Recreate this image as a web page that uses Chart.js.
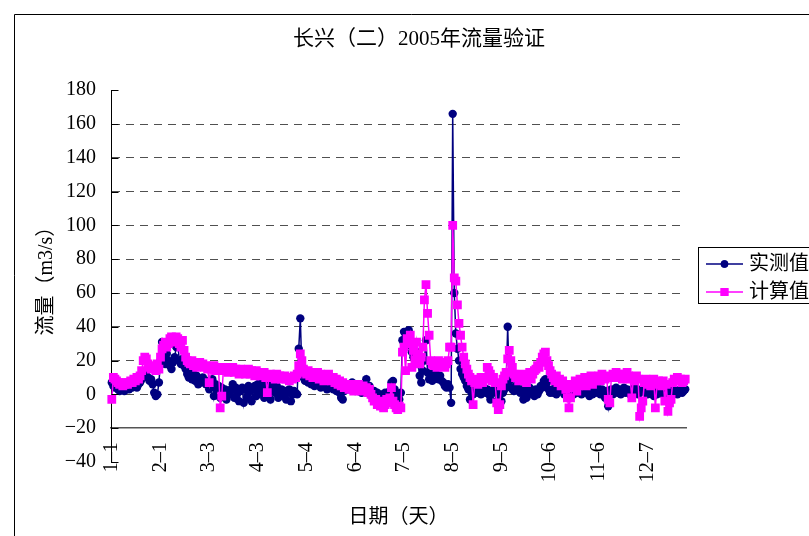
<!DOCTYPE html>
<html>
<head>
<meta charset="utf-8">
<script src="https://cdn.jsdelivr.net/npm/chart.js@4.4.1/dist/chart.umd.min.js"></script>
<style>
  html, body { margin: 0; padding: 0; background: #fff; overflow: hidden; }
  #wrap { width: 809px; height: 536px; position: relative; }
</style>
</head>
<body>
<div id="wrap"><canvas id="c" width="809" height="536"></canvas></div>
<script>
// Daily categories, 1-1 .. 12-31 (a 366-day calendar)
const monthDays = [31, 29, 31, 30, 31, 30, 31, 31, 30, 31, 30, 31];
const dayLabels = [];
monthDays.forEach((n, m) => { for (let d = 1; d <= n; d++) dayLabels.push((m + 1) + '-' + d); });

// Measured daily flow (m3/s)
const measured = [
  7, 5, 4, 6, 3, 2, 3, 4, 2, 3,
  4, 3, 5, 4, 6, 5, 4, 6, 7, 9,
  12, 13, 11, 10, 8, 9, 6, 1, -1, 0,
  7, 20, 31, 22, 18, 24, 20, 17, 15, 19,
  22, 28, 30, 20, 18, 21, 17, 15, 12, 10,
  14, 9, 12, 8, 11, 6, 9, 7, 10, 8,
  6, 8, 3, 5, 9, -1, 6, 3, 5, -2,
  4, 1, 3, -3, 2, 0, 3, 6, -2, 4,
  1, -4, 2, 4, -5, 3, -2, 5, 2, -4,
  3, 5, -1, 6, 1, 4, 7, -2, 0, 5,
  2, -3, 6, 3, 1, 5, -2, -1, 3, 0,
  2, -3, 1, 3, -4, 0, 2, 1, 0, 27,
  45, 14, 10, 8, 9, 7, 10, 6, 8, 5,
  9, 6, 7, 4, 8, 5, 6, 3, 7, 4,
  5, 3, 6, 2, 4, 1, -2, -3, 2, 4,
  6, 3, 5, 7, 4, 2, 5, 3, 6, 1,
  4, 2, 9, 3, 5, 1, 0, 2, -2, 1,
  -1, -3, 0, -2, 1, -3, 0, 2, 7, 8,
  3, 0, -2, -3, 1, 32, 37, 34, 36, 38,
  29, 25, 22, 26, 24, 18, 11, 7, 14, 20,
  32, 13, 9, 12, 8, 11, 14, 10, 9, 11,
  8, 7, 5, 4, 6, 4, -5, 166, 60, 36,
  27, 20, 15, 12, 10, 8, 5, 3, -3, 1,
  0, 2, 4, 1, 3, 0, 2, 4, 1, 3,
  0, -3, 2, 1, 3, -4, 2, 0, -4, 1,
  3, 6, 40, 8, 4, 3, 2, 5, 4, 2,
  1, 3, -3, 2, -2, 0, 4, 2, 1, -1,
  3, 0, 2, 5, 4, 8, 9, 7, 3, 1,
  2, 1, 4, 0, 3, 9, 5, 2, 0, 1,
  3, -1, 4, 2, 0, 3, 1, 4, 2, 0,
  2, 4, 1, 3, -1, 2, 0, 3, 1, 4,
  2, 0, 3, 1, -2, 2, -7, 1, 3, 0,
  2, 4, 1, 3, 0, 2, 4, 1, 3, 2,
  0, 3, 1, 4, 2, 0, 1, 3, 2, 4,
  1, 0, 2, 3, 1, -1, 2, 0, 3, 1,
  2, 0, 3, 1, 2, 4, 0, 1, 3, 2,
  0, 2, 3, 1, 2, 3
];

// Computed daily flow (m3/s)
const computed = [
  -3, 10, 9, 8, 7, 6, 7, 5, 6, 7,
  6, 7, 8, 7, 9, 8, 10, 9, 11, 14,
  20, 22, 21, 18, 16, 15, 17, 16, 14, 18,
  15, 22, 27, 29, 31, 28, 30, 33, 34, 32,
  31, 34, 33, 30, 28, 32, 26, 22, 20, 19,
  18, 20, 17, 19, 16, 18, 19, 17, 18, 16,
  17, 15, 7, 16, 15, 17, 14, 16, 15, -8,
  -1, 14, 16, 15, 13, 15, 14, 16, 13, 15,
  14, 12, 15, 13, 14, 12, 13, 15, 12, 14,
  13, 11, 14, 12, 13, 11, 12, 13, 10, 1,
  11, 12, 10, 11, 9, 12, 10, 11, 9, 10,
  11, 9, 10, 8, 10, 9, 11, 10, 12, 17,
  24, 20, 15, 13, 12, 14, 11, 13, 10, 12,
  11, 13, 9, 12, 10, 8, 11, 9, 12, 10,
  8, 10, 7, 9, 6, 8, 5, 7, 4, 6,
  5, 3, 6, 4, 2, 5, 3, 6, 4, 2,
  5, 3, 4, 1, 3, 0, -2, -4, -3, -6,
  -5, -7, -4, -8, -6, -3, -5, -2, 4, -4,
  -6, -8, -9, -7, -8, 25, 28, 14, 33, 30,
  35, 16, 26, 20, 31, 24, 18, 22, 28, 56,
  65, 48, 35, 20, 18, 17, 19, 16, 20, 18,
  17, 19, 16, 18, 20, 28, 28, 100, 69, 67,
  53, 42, 35, 28, 22, 18, 15, 12, 10, 8,
  -6, 7, 9, 6, 8, 10, 7, 9, 10, 16,
  14, 12, 8, 10, 7, -5, -9, -6, 5, 9,
  11, 13, 21, 26, 20, 16, 12, 10, 11, 8,
  10, 12, 9, 11, 7, 10, 13, 9, 12, 14,
  15, 17, 16, 19, 22, 24, 25, 20, 17, 14,
  12, 10, 8, 11, 7, 9, 5, 8, 6, 3,
  -2, -8, -2, 6, 4, 8, 2, 5, 9, 6,
  8, 10, 5, 9, 7, 11, 6, 10, 8, 9,
  11, 8, 12, 10, 9, 11, -3, -5, 10, 12,
  11, 13, 10, 12, 11, 9, 12, 10, 13, 11,
  9, -2, 10, 8, 11, 9, -13, -8, -4, 7,
  9, 6, 8, 5, 7, 9, -8, 6, 8, 7,
  5, 8, -4, 6, -10, -5, -3, 7, 9, 8,
  10, 8, 9, 7, 8, 9
];

const FONT = "'Liberation Serif', 'Noto Sans CJK SC', serif";
const LABEL_STEP = 31;

// Outer frame of the chart object, inner y-axis tick marks and the boxed legend
const decorations = {
  id: 'decorations',
  beforeDraw(chart) {
    const ctx = chart.ctx;
    ctx.save();
    ctx.strokeStyle = '#000';
    ctx.lineWidth = 1;
    ctx.beginPath();
    ctx.moveTo(14.5, chart.height);
    ctx.lineTo(14.5, 14.5);
    ctx.lineTo(chart.width, 14.5);
    ctx.stroke();
    ctx.restore();
  },
  afterDraw(chart) {
    const ctx = chart.ctx;
    const y = chart.scales.y;
    const x0 = Math.round(chart.chartArea.left) + 0.5;
    ctx.save();
    ctx.strokeStyle = '#000';
    ctx.lineWidth = 1;
    ctx.beginPath();
    y.ticks.forEach(t => {
      const py = Math.round(y.getPixelForValue(t.value)) + 0.5;
      ctx.moveTo(x0, py);
      ctx.lineTo(x0 + 7, py);
    });
    ctx.stroke();

    // legend
    const bx = 698.5, by = 247.5, bw = 140, bh = 56;
    ctx.strokeStyle = '#000';
    ctx.strokeRect(bx, by, bw, bh);
    const rows = [264, 292];
    chart.data.datasets.forEach((ds, i) => {
      const ry = rows[i];
      ctx.strokeStyle = ds.borderColor;
      ctx.lineWidth = 1.5;
      ctx.beginPath();
      ctx.moveTo(706, ry);
      ctx.lineTo(743, ry);
      ctx.stroke();
      ctx.fillStyle = ds.backgroundColor;
      Chart.helpers.drawPoint(ctx, { pointStyle: ds.pointStyle, radius: ds.pointRadius * 0.9, rotation: 0, borderWidth: 0 }, 724.5, ry);
      ctx.fill();
      ctx.fillStyle = '#000';
      ctx.font = '20px ' + FONT;
      ctx.textBaseline = 'middle';
      ctx.textAlign = 'left';
      ctx.fillText(ds.label, 749, ry + 1);
    });
    ctx.restore();
  }
};

new Chart(document.getElementById('c'), {
  type: 'line',
  data: {
    labels: dayLabels,
    datasets: [
      {
        label: '实测值', data: measured,
        borderColor: '#000080', backgroundColor: '#000080',
        borderWidth: 1.5, pointStyle: 'circle', pointRadius: 4.2,
        pointBorderWidth: 0, pointHoverRadius: 4.2, tension: 0, order: 1
      },
      {
        label: '计算值', data: computed,
        borderColor: '#FF00FF', backgroundColor: '#FF00FF',
        borderWidth: 1.5, pointStyle: 'rect', pointRadius: 6.2,
        pointBorderWidth: 0, pointHoverRadius: 6.2, tension: 0, order: 0
      }
    ]
  },
  options: {
    responsive: false,
    animation: false,
    events: [],
    layout: { padding: { left: 29, right: 0, top: 0, bottom: 74 } },
    plugins: {
      legend: { display: false },
      tooltip: { enabled: false },
      title: {
        display: true,
        text: '长兴（二）2005年流量验证',
        color: '#000',
        font: { family: FONT, size: 21, weight: 'normal' },
        padding: { top: 27, bottom: 38 }
      }
    },
    scales: {
      x: {
        type: 'category',
        position: { y: -20 },
        offset: true,
        grid: { display: false, drawTicks: false },
        border: { display: true, color: '#555', width: 1.5 },
        ticks: {
          autoSkip: false, maxRotation: 90, minRotation: 90, padding: 14,
          color: '#000', font: { family: FONT, size: 20 },
          callback: (v, i) => (i % LABEL_STEP === 0 ? dayLabels[i].replace('-', '–') : null)
        },
        title: {
          display: true, text: '日期（天）', color: '#000',
          font: { family: FONT, size: 20 }, padding: { top: 10, bottom: 0 }
        }
      },
      y: {
        min: -40, max: 180,
        afterFit: s => { s.width = 82; },
        ticks: {
          stepSize: 20, padding: 15, color: '#000',
          font: { family: FONT, size: 20 },
          callback: v => String(v).replace('-', '−')
        },
        grid: {
          drawTicks: false, lineWidth: 1,
          color: c => (c.tick && c.tick.value >= 0 && c.tick.value <= 160) ? '#505050' : 'rgba(0,0,0,0)'
        },
        border: { display: true, color: '#000', width: 1, dash: [8, 6] },
        title: {
          display: true, text: '流量（m3/s）', color: '#000',
          font: { family: FONT, size: 20 }, padding: { top: 6, bottom: 0 }
        }
      },
      yRight: {
        position: 'right',
        afterFit: s => { s.width = 123; },
        grid: { display: false, drawTicks: false },
        border: { display: false },
        ticks: { display: false }
      }
    }
  },
  plugins: [decorations]
});
</script>
</body>
</html>
